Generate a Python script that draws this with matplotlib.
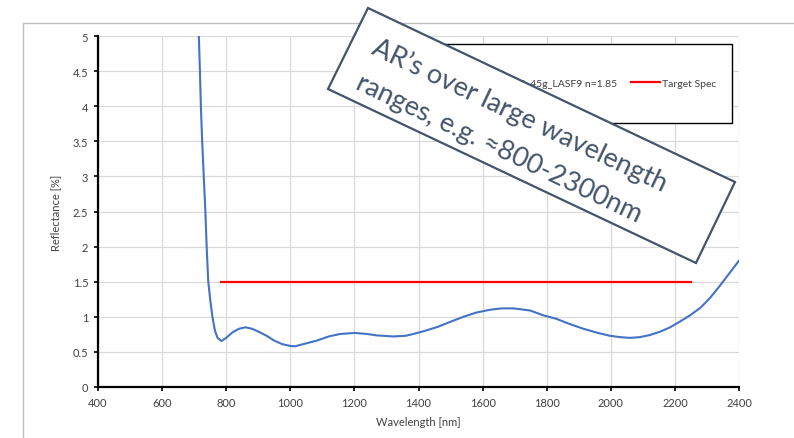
import matplotlib
matplotlib.use("Agg")
import matplotlib.pyplot as plt
from matplotlib.patches import Polygon, Rectangle

# reflectance curve
wavelength = [714, 718, 721, 725, 730, 735, 739, 744, 750, 757, 765, 773, 785,
              800, 820, 840, 860, 880, 900, 926, 950, 975, 1000, 1015, 1040,
              1082, 1120, 1155, 1200, 1240, 1270, 1322, 1360, 1384, 1420, 1462,
              1500, 1540, 1580, 1623, 1660, 1696, 1748, 1790, 1831, 1870, 1914,
              1960, 1997, 2030, 2060, 2090, 2122, 2155, 2185, 2215, 2247, 2280,
              2310, 2340, 2370, 2400]
reflectance = [5.10, 4.50, 4.00, 3.50, 3.00, 2.50, 2.00, 1.50, 1.25, 1.00, 0.80,
               0.70, 0.655, 0.70, 0.78, 0.83, 0.85, 0.83, 0.79, 0.73, 0.66, 0.61,
               0.585, 0.58, 0.61, 0.66, 0.72, 0.755, 0.77, 0.755, 0.735, 0.72,
               0.73, 0.755, 0.80, 0.86, 0.93, 1.00, 1.06, 1.10, 1.12, 1.12, 1.09,
               1.02, 0.97, 0.90, 0.83, 0.77, 0.73, 0.71, 0.70, 0.71, 0.74, 0.79,
               0.85, 0.93, 1.02, 1.13, 1.27, 1.44, 1.62, 1.80]
target_x = [785, 2250]
target_y = [1.5, 1.5]
xticks = list(range(400, 2401, 200))
yticks = [0, 0.5, 1, 1.5, 2, 2.5, 3, 3.5, 4, 4.5, 5]
callout_lines = ["AR\u2019s over large wavelength", "ranges, e.g. \u2248800-2300nm"]

W, H = 794, 439
plt.rcParams["font.family"] = ["Lato", "DejaVu Sans"]


def fx(x, y):
    """pixel position -> figure fraction"""
    return (x / W, 1 - y / H)


fig = plt.figure(figsize=(W / 100, H / 100), dpi=100)
ax = fig.add_axes([98 / W, 1 - 388 / H, (739 - 98) / W, (388 - 37) / H])

ax.plot(wavelength, reflectance, color="#4472c4", lw=1.5,
        label="AR_45g_LASF9 n=1.85", zorder=3)
ax.plot(target_x, target_y, color="#ff0000", lw=1.6, label="Target Spec", zorder=3)

ax.set_xlim(400, 2400)
ax.set_ylim(0, 5)
ax.set_xticks(xticks)
ax.set_yticks(yticks)
ax.set_yticklabels([f"{v:g}" for v in yticks])
ax.grid(True, color="#d9d9d9", lw=0.9)
ax.set_axisbelow(True)
for s in ("top", "right"):
    ax.spines[s].set_visible(False)
for s in ("left", "bottom"):
    ax.spines[s].set_linewidth(1.6)
    ax.spines[s].set_color("black")
ax.tick_params(direction="out", length=3, width=1.2, labelsize=8,
               labelcolor="#404040", pad=4)
ax.set_xlabel("Wavelength [nm]", fontsize=8, color="#404040", labelpad=6)
ax.set_ylabel("Reflectance [%]", fontsize=8, color="#404040", labelpad=8)

# legend box
x0, y0 = fx(425, 124)
x1, y1 = fx(732, 45)
ax.add_patch(Rectangle((x0, y0), x1 - x0, y1 - y0, transform=fig.transFigure,
                       facecolor="white", edgecolor="black", lw=1.0,
                       clip_on=False, zorder=4))
leg = ax.legend(loc="center right", bbox_to_anchor=fx(726, 84),
                bbox_transform=fig.transFigure, ncol=2, frameon=False,
                fontsize=7.5, handlelength=2.8, handletextpad=0.2,
                columnspacing=1.3)
leg.set_zorder(5)
for t in leg.get_texts():
    t.set_color("#404040")

# outer chart frame
fa, fb = fx(23, 460)
fc, fd = fx(820, 24)
fig.patches.append(Rectangle((fa, fb), fc - fa, fd - fb, transform=fig.transFigure,
                             facecolor="none", edgecolor="#bfbfbf", lw=1.0,
                             zorder=-1))

# rotated callout
corners = [fx(368, 9), fx(735, 183), fx(696, 264), fx(328, 90)]
fig.patches.append(Polygon(corners, closed=True, transform=fig.transFigure,
                           facecolor="white", edgecolor="#44546a", lw=1.6,
                           zorder=1))
for line, start in zip(callout_lines, [(370, 53), (354, 88)]):
    fig.text(*fx(*start), line, rotation=-25.4, rotation_mode="anchor",
             ha="left", va="baseline", fontsize=19.5, color="#44546a", zorder=3)

fig.savefig("out.png", dpi=100)
